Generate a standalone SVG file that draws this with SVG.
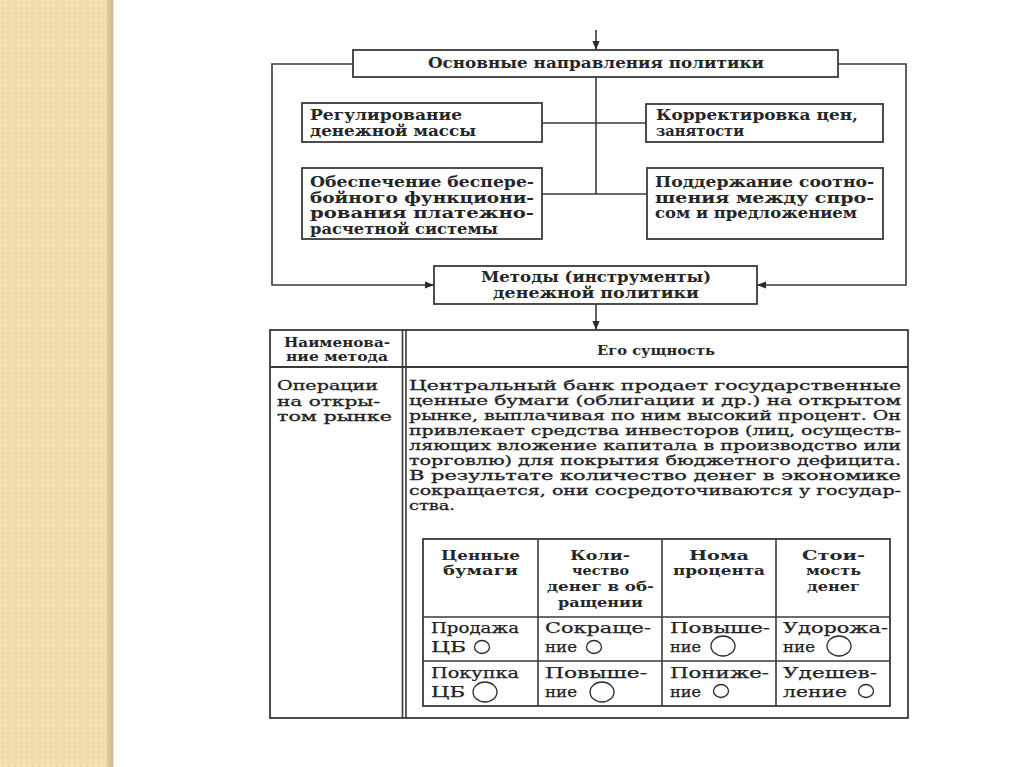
<svg xmlns="http://www.w3.org/2000/svg" width="1024" height="767" viewBox="0 0 1024 767">
<defs>
<pattern id="tex" width="6" height="5" patternUnits="userSpaceOnUse">
<rect width="6" height="5" fill="#f5e2b6"/>
<ellipse cx="3" cy="2.5" rx="2" ry="1.5" fill="none" stroke="#e8cf9a" stroke-width="0.8"/>
</pattern>
<linearGradient id="shade" x1="0" y1="0" x2="1" y2="0">
<stop offset="0" stop-color="#e2cc9c"/>
<stop offset="1" stop-color="#cdb88e"/>
</linearGradient>
<marker id="ah" viewBox="0 0 10 10" refX="10" refY="5" markerWidth="9" markerHeight="9" markerUnits="userSpaceOnUse" orient="auto">
<path d="M0,1 L10,5 L0,9 Z" fill="#2a2a2a"/>
</marker>
<style>
.b{font-family:"DejaVu Serif","Liberation Serif",serif;font-weight:bold;font-size:14px;fill:#262626}
.h{font-family:"DejaVu Serif","Liberation Serif",serif;font-weight:bold;font-size:13px;fill:#262626}
.p{font-family:"DejaVu Serif","Liberation Serif",serif;font-size:13px;fill:#222;stroke:#222;stroke-width:0.3}
.r{font-family:"DejaVu Serif","Liberation Serif",serif;font-size:15px;fill:#222;stroke:#222;stroke-width:0.25}
.box{fill:#fff;stroke:#3a3a3a;stroke-width:1.8}
.ln{fill:none;stroke:#3a3a3a;stroke-width:1.6}
.tb{fill:none;stroke:#3a3a3a;stroke-width:1.8}
.c{fill:none;stroke:#2a2a2a;stroke-width:1.3}
</style>
</defs>
<rect width="1024" height="767" fill="#ffffff"/>
<rect x="0" y="0" width="108" height="767" fill="url(#tex)"/>
<rect x="107" y="0" width="6" height="767" fill="url(#shade)"/>
<rect x="113" y="0" width="1" height="767" fill="#e4e4e4"/>

<g id="connectors">
<line class="ln" x1="596" y1="30" x2="596" y2="50" marker-end="url(#ah)"/>
<polyline class="ln" points="353,64 272,64 272,285 434,285" marker-end="url(#ah)"/>
<polyline class="ln" points="838,64 906,64 906,285 757,285" marker-end="url(#ah)"/>
<line class="ln" x1="596" y1="77" x2="596" y2="194"/>
<line class="ln" x1="542" y1="123" x2="646" y2="123"/>
<line class="ln" x1="542" y1="194" x2="647" y2="194"/>
<line class="ln" x1="596" y1="304" x2="596" y2="330" marker-end="url(#ah)"/>
</g>

<g id="node-main">
<rect class="box" x="353" y="50" width="485" height="27"/>
<text class="b" x="428" y="68" textLength="336" lengthAdjust="spacingAndGlyphs">Основные направления политики</text>
</g>

<g id="node-regulation">
<rect class="box" x="302" y="103" width="240" height="39"/>
<text class="b" x="310" y="120" textLength="152" lengthAdjust="spacingAndGlyphs">Регулирование</text>
<text class="b" x="310" y="136" textLength="166" lengthAdjust="spacingAndGlyphs">денежной массы</text>
</g>

<g id="node-correction">
<rect class="box" x="646" y="104" width="237" height="38"/>
<text class="b" x="656" y="120" textLength="202" lengthAdjust="spacingAndGlyphs">Корректировка цен,</text>
<text class="b" x="656" y="136" textLength="88" lengthAdjust="spacingAndGlyphs">занятости</text>
</g>

<g id="node-payment">
<rect class="box" x="302" y="168" width="240" height="71"/>
<text class="b" x="310" y="187" textLength="224" lengthAdjust="spacingAndGlyphs">Обеспечение беспере-</text>
<text class="b" x="310" y="202.5" textLength="224" lengthAdjust="spacingAndGlyphs">бойного функциони-</text>
<text class="b" x="310" y="218" textLength="224" lengthAdjust="spacingAndGlyphs">рования платежно-</text>
<text class="b" x="310" y="233.5" textLength="188" lengthAdjust="spacingAndGlyphs">расчетной системы</text>
</g>

<g id="node-balance">
<rect class="box" x="647" y="168" width="236" height="71"/>
<text class="b" x="655" y="187" textLength="219" lengthAdjust="spacingAndGlyphs">Поддержание соотно-</text>
<text class="b" x="655" y="202.5" textLength="219" lengthAdjust="spacingAndGlyphs">шения между спро-</text>
<text class="b" x="655" y="218" textLength="202" lengthAdjust="spacingAndGlyphs">сом и предложением</text>
</g>

<g id="node-methods">
<rect class="box" x="434" y="266" width="323" height="38"/>
<text class="b" x="481" y="282" textLength="230" lengthAdjust="spacingAndGlyphs">Методы (инструменты)</text>
<text class="b" x="493" y="298" textLength="206" lengthAdjust="spacingAndGlyphs">денежной политики</text>
</g>

<g id="table-methods">
<rect class="tb" x="270" y="330" width="638" height="388"/>
<line class="tb" x1="270" y1="367" x2="908" y2="367"/>
<line class="ln" x1="402.5" y1="330" x2="402.5" y2="718"/>
<line class="ln" x1="406" y1="330" x2="406" y2="718"/>
<text class="h" x="284" y="347" textLength="106" lengthAdjust="spacingAndGlyphs">Наименова-</text>
<text class="h" x="286" y="361" textLength="102" lengthAdjust="spacingAndGlyphs">ние метода</text>
<text class="h" x="597" y="355" textLength="118" lengthAdjust="spacingAndGlyphs">Его сущность</text>
<text class="p" x="277" y="390" textLength="101" lengthAdjust="spacingAndGlyphs">Операции</text>
<text class="p" x="277" y="405.5" textLength="103" lengthAdjust="spacingAndGlyphs">на откры-</text>
<text class="p" x="277" y="421" textLength="115" lengthAdjust="spacingAndGlyphs">том рынке</text>
<text class="p" x="409" y="390" textLength="492" lengthAdjust="spacingAndGlyphs">Центральный банк продает государственные</text>
<text class="p" x="409" y="405" textLength="492" lengthAdjust="spacingAndGlyphs">ценные бумаги (облигации и др.) на открытом</text>
<text class="p" x="409" y="420" textLength="492" lengthAdjust="spacingAndGlyphs">рынке, выплачивая по ним высокий процент. Он</text>
<text class="p" x="409" y="435" textLength="492" lengthAdjust="spacingAndGlyphs">привлекает средства инвесторов (лиц, осуществ-</text>
<text class="p" x="409" y="450" textLength="492" lengthAdjust="spacingAndGlyphs">ляющих вложение капитала в производство или</text>
<text class="p" x="409" y="465" textLength="492" lengthAdjust="spacingAndGlyphs">торговлю) для покрытия бюджетного дефицита.</text>
<text class="p" x="409" y="480" textLength="492" lengthAdjust="spacingAndGlyphs">В результате количество денег в экономике</text>
<text class="p" x="409" y="495" textLength="492" lengthAdjust="spacingAndGlyphs">сокращается, они сосредоточиваются у государ-</text>
<text class="p" x="409" y="510" textLength="46" lengthAdjust="spacingAndGlyphs">ства.</text>
</g>

<g id="table-effects">
<rect class="tb" x="423" y="539" width="467" height="167"/>
<line class="ln" x1="538" y1="539" x2="538" y2="706"/>
<line class="ln" x1="662" y1="539" x2="662" y2="706"/>
<line class="ln" x1="776" y1="539" x2="776" y2="706"/>
<line class="ln" x1="423" y1="617" x2="890" y2="617"/>
<line class="ln" x1="423" y1="661" x2="890" y2="661"/>
<text class="h" x="441" y="560" textLength="79" lengthAdjust="spacingAndGlyphs">Ценные</text>
<text class="h" x="443" y="575" textLength="75" lengthAdjust="spacingAndGlyphs">бумаги</text>
<text class="h" x="570" y="560" textLength="60" lengthAdjust="spacingAndGlyphs">Коли-</text>
<text class="h" x="572" y="575" textLength="57" lengthAdjust="spacingAndGlyphs">чество</text>
<text class="h" x="547" y="591" textLength="107" lengthAdjust="spacingAndGlyphs">денег в об-</text>
<text class="h" x="558" y="607" textLength="85" lengthAdjust="spacingAndGlyphs">ращении</text>
<text class="h" x="689" y="560" textLength="60" lengthAdjust="spacingAndGlyphs">Нома</text>
<text class="h" x="673" y="575" textLength="92" lengthAdjust="spacingAndGlyphs">процента</text>
<text class="h" x="802" y="560" textLength="63" lengthAdjust="spacingAndGlyphs">Стои-</text>
<text class="h" x="806" y="575" textLength="55" lengthAdjust="spacingAndGlyphs">мость</text>
<text class="h" x="807" y="591" textLength="53" lengthAdjust="spacingAndGlyphs">денег</text>

<text class="r" x="431" y="633" textLength="88" lengthAdjust="spacingAndGlyphs">Продажа</text>
<text class="r" x="431" y="652" textLength="35" lengthAdjust="spacingAndGlyphs">ЦБ</text>
<ellipse class="c" cx="482" cy="647" rx="7.5" ry="6.5"/>
<text class="r" x="431" y="678" textLength="88" lengthAdjust="spacingAndGlyphs">Покупка</text>
<text class="r" x="431" y="697" textLength="34" lengthAdjust="spacingAndGlyphs">ЦБ</text>
<ellipse class="c" cx="485" cy="692" rx="12" ry="10"/>

<text class="r" x="545" y="633" textLength="106" lengthAdjust="spacingAndGlyphs">Сокраще-</text>
<text class="r" x="545" y="652" textLength="32" lengthAdjust="spacingAndGlyphs">ние</text>
<ellipse class="c" cx="594" cy="647" rx="7.5" ry="6.5"/>
<text class="r" x="545" y="678" textLength="102" lengthAdjust="spacingAndGlyphs">Повыше-</text>
<text class="r" x="545" y="697" textLength="32" lengthAdjust="spacingAndGlyphs">ние</text>
<ellipse class="c" cx="602" cy="692" rx="12" ry="10"/>

<text class="r" x="670" y="633" textLength="100" lengthAdjust="spacingAndGlyphs">Повыше-</text>
<text class="r" x="670" y="652" textLength="31" lengthAdjust="spacingAndGlyphs">ние</text>
<ellipse class="c" cx="723" cy="646" rx="12" ry="10"/>
<text class="r" x="670" y="678" textLength="99" lengthAdjust="spacingAndGlyphs">Пониже-</text>
<text class="r" x="670" y="697" textLength="31" lengthAdjust="spacingAndGlyphs">ние</text>
<ellipse class="c" cx="721" cy="691" rx="7.5" ry="6.5"/>

<text class="r" x="783" y="633" textLength="105" lengthAdjust="spacingAndGlyphs">Удорожа-</text>
<text class="r" x="783" y="652" textLength="32" lengthAdjust="spacingAndGlyphs">ние</text>
<ellipse class="c" cx="839" cy="646" rx="12" ry="10"/>
<text class="r" x="783" y="678" textLength="94" lengthAdjust="spacingAndGlyphs">Удешев-</text>
<text class="r" x="783" y="697" textLength="64" lengthAdjust="spacingAndGlyphs">ление</text>
<ellipse class="c" cx="866" cy="691" rx="7.5" ry="6.5"/>
</g>
</svg>
